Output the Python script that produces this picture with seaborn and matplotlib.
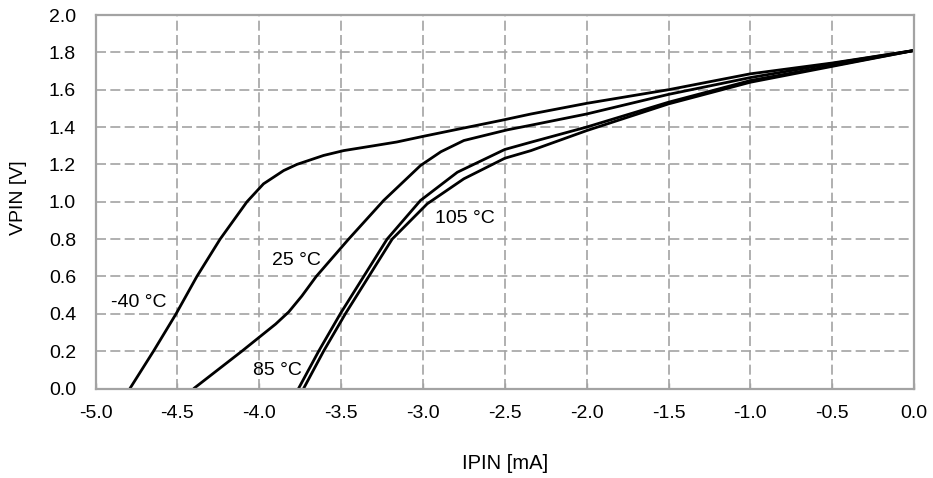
import numpy as np
import pandas as pd
import matplotlib
matplotlib.use("Agg")
import matplotlib.pyplot as plt
import seaborn as sns

# ---- data ----
i_m40 = [-4.79, -4.646, -4.508, -4.381, -4.239, -4.075, -3.974, -3.851, -3.77, -3.607,
         -3.484, -3.30, -3.16, -3.0, -2.75, -2.526, -2.34, -2.0, -1.5, -1.0, -0.5, 0.0]
v_m40 = [0.0, 0.2, 0.4, 0.6, 0.8, 1.0, 1.096, 1.167, 1.20, 1.248,
         1.274, 1.30, 1.32, 1.35, 1.395, 1.435, 1.47, 1.527, 1.60, 1.685, 1.743, 1.81]

i_25 = [-4.40, -4.106, -3.90, -3.82, -3.74, -3.652, -3.454, -3.24, -3.015, -2.89,
        -2.75, -2.485, -2.34, -2.0, -1.5, -1.0, -0.5, 0.0]
v_25 = [0.0, 0.2, 0.345, 0.41, 0.495, 0.6, 0.8, 1.007, 1.194, 1.268,
        1.328, 1.385, 1.41, 1.47, 1.575, 1.665, 1.74, 1.81]

i_85 = [-3.76, -3.637, -3.505, -3.362, -3.219, -3.015, -2.79, -2.5, -2.34, -2.0,
        -1.5, -1.0, -0.5, 0.0]
v_85 = [0.0, 0.2, 0.4, 0.6, 0.8, 1.007, 1.158, 1.28, 1.319, 1.40,
        1.533, 1.649, 1.729, 1.81]

i_105 = [-3.729, -3.607, -3.474, -3.331, -3.188, -2.974, -2.75, -2.5, -2.34, -2.0,
         -1.5, -1.0, -0.5, 0.0]
v_105 = [0.0, 0.2, 0.4, 0.6, 0.8, 0.989, 1.123, 1.233, 1.274, 1.381,
         1.524, 1.64, 1.725, 1.81]

temps = ["-40 °C", "25 °C", "85 °C", "105 °C"]
x_ticks = [-5.0, -4.5, -4.0, -3.5, -3.0, -2.5, -2.0, -1.5, -1.0, -0.5, 0.0]
y_ticks = [0.0, 0.2, 0.4, 0.6, 0.8, 1.0, 1.2, 1.4, 1.6, 1.8, 2.0]

frames = []
for t, xs, ys in zip(temps, [i_m40, i_25, i_85, i_105], [v_m40, v_25, v_85, v_105]):
    frames.append(pd.DataFrame({"I": xs, "V": ys, "T": t}))
df = pd.concat(frames, ignore_index=True)

sns.set_theme(style="white")
plt.rcParams["font.family"] = ["Liberation Sans", "DejaVu Sans"]

fig = plt.figure(figsize=(9.33, 4.78), dpi=100)
ax = fig.add_axes([0.1024, 0.1872, 0.8773, 0.7814])

gray = "#a3a3a3"
ax.set_axisbelow(True)
ax.grid(True, color=gray, linewidth=1.2, linestyle=(0, (6.0, 2.6)))

sns.lineplot(data=df, x="I", y="V", hue="T", palette={t: "black" for t in temps},
             sort=False, estimator=None, legend=False, linewidth=2.0, ax=ax)

ax.set_xlim(-5, 0)
ax.set_ylim(0, 2)
ax.set_xticks(x_ticks)
ax.set_xticklabels([f"{v:.1f}" for v in x_ticks])
ax.set_yticks(y_ticks)
ax.set_yticklabels([f"{v:.1f}" for v in y_ticks])

for s in ax.spines.values():
    s.set_color(gray)
    s.set_linewidth(1.6)
    s.set_visible(True)

fs = 14
ax.tick_params(axis="x", direction="in", length=4, width=1, color=gray,
               labelsize=fs, labelcolor="black", pad=12, bottom=True)
ax.tick_params(axis="y", length=0, labelsize=fs, labelcolor="black", pad=14)

ax.set_xlabel("IPIN [mA]", fontsize=14.5, color="black")
ax.set_ylabel("VPIN [V]", fontsize=14, color="black")
ax.xaxis.set_label_coords(0.5, -0.202)
ax.yaxis.set_label_coords(-0.094, 0.51)
ax.xaxis.label.set_va("center")
ax.yaxis.label.set_va("center")

label_pos = {"-40 °C": (-4.733, 0.462), "25 °C": (-3.774, 0.687),
             "85 °C": (-3.89, 0.095), "105 °C": (-2.746, 0.91)}
for t in temps:
    x, y = label_pos[t]
    ax.text(x, y, t, fontsize=fs, color="black", ha="center", va="center")

fig.savefig("out.png", dpi=100)
